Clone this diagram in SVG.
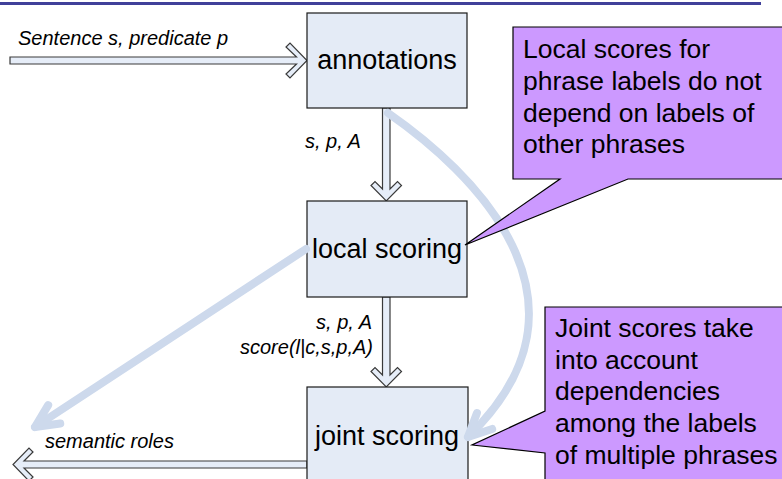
<svg xmlns="http://www.w3.org/2000/svg" width="782" height="479" viewBox="0 0 782 479">
<defs>
<style>
.box{fill:#E4EBF6;stroke:#1a1a1a;stroke-width:1.2}
.blk{fill:#E6EDF8;stroke:#3a3a3a;stroke-width:1.2;stroke-linejoin:miter}
.call{fill:#CC99FF;stroke:#000;stroke-width:1.2}
.big{font-family:"Liberation Sans",Arial,sans-serif;font-size:27px;fill:#000}
.ctext{font-family:"Liberation Sans",Arial,sans-serif;font-size:26.5px;fill:#000}
.lab{font-family:"Liberation Sans",Arial,sans-serif;font-size:20px;font-style:italic;fill:#000}
.flow{fill:none;stroke:#CDD9EC;stroke-width:8;stroke-linecap:round}
</style>
<marker id="openv" markerUnits="userSpaceOnUse" viewBox="-30 -20 40 40" refX="0" refY="0" markerWidth="40" markerHeight="40" orient="auto">
<path d="M-23,-11 L0,0 L-23,11" fill="none" stroke="#CDD9EC" stroke-width="8" stroke-linecap="round" stroke-linejoin="round"/>
</marker>
</defs>
<rect width="782" height="479" fill="#fff"/>
<line x1="0" y1="3.5" x2="761" y2="3.5" stroke="#40409A" stroke-width="3"/>

<g id="connectors">
<polygon class="blk" points="10,57 296.5,57 286,47 290,43 307,60.5 290,78 286,74 296.5,64 10,64"/>
<polygon class="blk" points="382.5,108 382.5,189 375,181.5 371,185.5 386.25,201 401.5,185.5 397.5,181.5 390,189 390,108"/>
<polygon class="blk" points="382.5,297 382.5,375 375,367.5 371,371.5 386.25,387 401.5,371.5 397.5,367.5 390,375 390,297"/>
<polygon class="blk" points="307,461 24,461 33,452 29,448 13,464.5 29,481 33,477 24,468 307,468"/>
</g>

<g id="annotations">
<rect class="box" x="307" y="13" width="160" height="95"/>
<text class="big" x="387" y="69" text-anchor="middle">annotations</text>
</g>
<g id="local-scoring">
<rect class="box" x="307" y="201" width="160" height="96"/>
<text class="big" x="387" y="258" text-anchor="middle">local scoring</text>
</g>
<g id="joint-scoring">
<rect class="box" x="307" y="387" width="161" height="100"/>
<text class="big" x="387" y="445" text-anchor="middle">joint scoring</text>
</g>

<g id="labels">
<text class="lab" x="18" y="45">Sentence s, predicate p</text>
<text class="lab" x="305" y="148">s, p, A</text>
<text class="lab" x="372" y="329" text-anchor="end">s, p, A</text>
<text class="lab" x="373" y="354" text-anchor="end">score(l|c,s,p,A)</text>
<text class="lab" x="45" y="448">semantic roles</text>
</g>

<g id="flows">
<path class="flow" d="M388,113 C470,170 610,300 468,437" marker-end="url(#openv)"/>
<path class="flow" d="M306,249 L35,427" marker-end="url(#openv)"/>
</g>

<g id="callout-local">
<polygon class="call" points="513,27 790,27 790,179 628,179 465,245 560,179 513,179"/>
<text class="ctext" x="523" y="58">Local scores for</text>
<text class="ctext" x="523" y="90">phrase labels do not</text>
<text class="ctext" x="523" y="122">depend on labels of</text>
<text class="ctext" x="523" y="153">other phrases</text>
</g>
<g id="callout-joint">
<polygon class="call" points="545,307 790,307 790,490 545,490 545,453 472,445 545,411"/>
<text class="ctext" x="555" y="337">Joint scores take</text>
<text class="ctext" x="555" y="369">into account</text>
<text class="ctext" x="555" y="400">dependencies</text>
<text class="ctext" x="555" y="432">among the labels</text>
<text class="ctext" x="555" y="464">of multiple phrases</text>
</g>
</svg>
